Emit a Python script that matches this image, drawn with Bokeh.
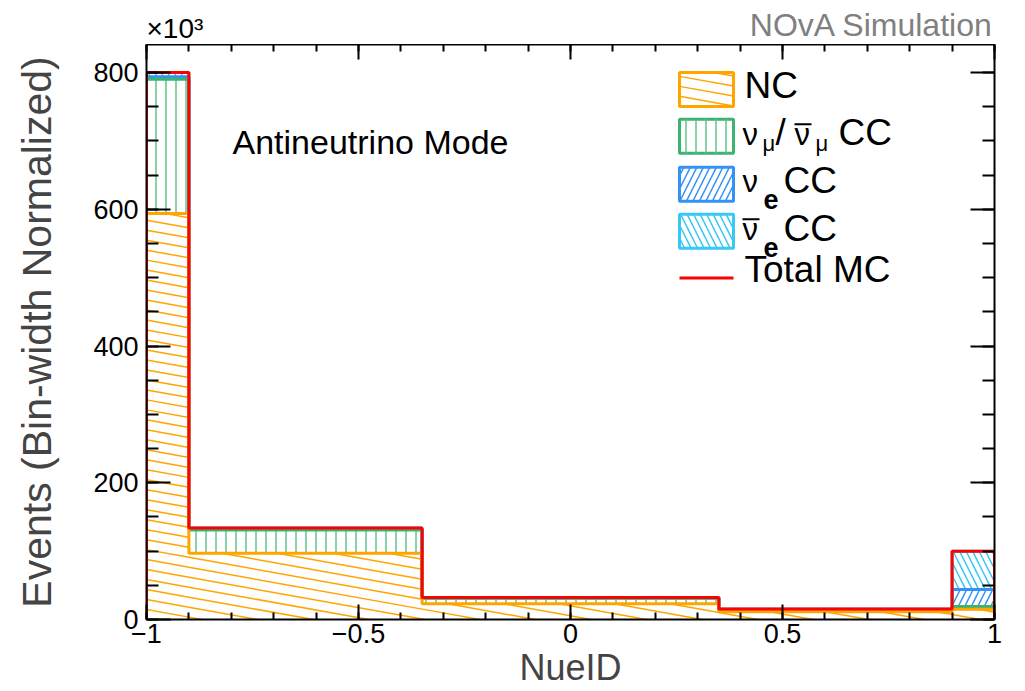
import numpy as np
from bokeh.plotting import figure
from bokeh.layouts import column
from bokeh.models import Range1d, FixedTicker, LinearAxis, CustomJSTickFormatter, Label
from bokeh.embed import file_html
from bokeh.resources import INLINE

# ---------------- data (values in units of 10^3, bin-width normalized) ----------------
bin_edges = [-1.0, -0.9, -0.35, 0.35, 0.9, 1.0]
nc_vals = [594.0, 97.0, 23.0, 11.5, 15.0]
numu_vals = [196.0, 34.0, 8.0, 1.0, 4.0]
nue_vals = [4.0, 1.0, 0.5, 1.5, 25.0]
nuebar_vals = [6.0, 2.0, 0.5, 1.5, 56.0]

x_major = [-1.0, -0.5, 0.0, 0.5, 1.0]
x_minor = [round(-1.0 + 0.1 * i, 2) for i in range(21)]
y_major = [0, 200, 400, 600, 800]
y_minor = list(range(0, 841, 50))

# ---------------- geometry ----------------
W = 1020
HEAD_H = 44
FL, FT, FR, FB = 146, 44, 994, 620       # frame edges on the page
FW, FH = FR - FL, FB - FT
X0, X1, Y0, Y1 = -1.0, 1.0, 0.0, 841.0
FONT = "Liberation Sans"
DESC = 0.2   # descent (fraction of font size) between text-box bottom and baseline

def sx(x): return (x - X0) / (X1 - X0) * FW
def sy(y): return (y - Y0) / (Y1 - Y0) * FH
def dx(px): return X0 + px / FW * (X1 - X0)
def dy(py): return Y0 + py / FH * (Y1 - Y0)
def rx(px): return dx(px - FL)      # page pixel -> data
def ry(py): return dy(FB - py)

C_NC = "#ffa500"
C_NUMU = "#3cb371"
C_NUMU_H = "#62c48a"
C_NUE = "#3592f5"
C_NUEBAR = "#38c8f5"
C_TOT = "#ff0000"

# ---------------- header (texts above the frame) ----------------
head = figure(width=W, height=HEAD_H, x_range=Range1d(FL, FR), y_range=Range1d(0, HEAD_H),
              output_backend="svg", toolbar_location=None,
              min_border=0, min_border_left=0, min_border_right=0,
              min_border_top=0, min_border_bottom=0,
              x_axis_type=None, y_axis_type=None)
head.outline_line_color = None
head.xgrid.visible = False
head.ygrid.visible = False

def head_label(px, baseline, text, size, color="black", align="left"):
    head.add_layout(Label(x=px, y=HEAD_H - (baseline + DESC * size), text=text, text_font=FONT,
                          text_font_size=f"{size}px", text_color=color, text_align=align,
                          text_baseline="bottom"))

head_label(FL, 38.0, "\u00d710\u00b3", 28)
head_label(993, 36, "NOvA Simulation", 32, color="#808080", align="right")

# ---------------- main figure ----------------
p = figure(width=W, height=FB - HEAD_H + 70, x_range=Range1d(X0, X1), y_range=Range1d(Y0, Y1),
           output_backend="svg", toolbar_location=None,
           min_border_left=FL, min_border_right=W - FR, min_border_top=FT - HEAD_H, min_border_bottom=70)
p.xgrid.visible = False
p.ygrid.visible = False
p.outline_line_color = None
p.background_fill_color = "white"

def slant_hatch(xa, xb, ya, yb, k=0.18, gap=10.0):
    Xa, Xb, Ya, Yb = sx(xa), sx(xb), sy(ya), sy(yb)
    xs, ys = [], []
    cmin = Ya + k * Xa
    cmax = Yb + k * Xb
    for m in range(int(np.ceil(cmin / gap)), int(np.floor(cmax / gap)) + 1):
        c = m * gap
        lo = max(Xa, (c - Yb) / k)
        hi = min(Xb, (c - Ya) / k)
        if hi > lo:
            xs.append([dx(lo), dx(hi)])
            ys.append([dy(c - k * lo), dy(c - k * hi)])
    return xs, ys

edges = np.array(bin_edges)
lefts, rights = edges[:-1], edges[1:]
c1 = np.array(nc_vals)
c2 = c1 + np.array(numu_vals)
c3 = c2 + np.array(nue_vals)
c4 = c3 + np.array(nuebar_vals)

# NC slanted hatch
hx, hy = [], []
for l, r, t in zip(lefts, rights, c1):
    a, b = slant_hatch(l, r, 0.0, t)
    hx += a; hy += b
p.multi_line(hx, hy, line_color=C_NC, line_width=1.5)

# other components with built-in hatches
p.quad(left=lefts, right=rights, bottom=c1, top=c2, fill_alpha=0, line_color=None,
       hatch_pattern="|", hatch_color=C_NUMU_H, hatch_scale=10, hatch_weight=1.5)
p.quad(left=lefts, right=rights, bottom=c2, top=c3, fill_alpha=0, line_color=None,
       hatch_pattern="/", hatch_color=C_NUE, hatch_scale=13, hatch_weight=1.5)
p.quad(left=lefts, right=rights, bottom=c3, top=c4, fill_alpha=0, line_color=None,
       hatch_pattern="\\", hatch_color=C_NUEBAR, hatch_scale=13, hatch_weight=1.5)

def step_xy(vals):
    xs, ys = [edges[0]], [0.0]
    for l, r, v in zip(lefts, rights, vals):
        xs += [l, r]; ys += [v, v]
    xs.append(edges[-1]); ys.append(0.0)
    return xs, ys

for vals, col in [(c4, C_NUEBAR), (c3, C_NUE), (c2, C_NUMU), (c1, C_NC), (c4, C_TOT)]:
    sxs, sys_ = step_xy(vals)
    p.line(sxs, sys_, line_color=col, line_width=3)

# ---------------- axes ----------------
def style_axis(ax, tick_in, minor_in, labels=True):
    ax.axis_line_width = 2
    ax.axis_line_color = "black"
    ax.major_tick_in = tick_in
    ax.major_tick_out = 0
    ax.minor_tick_in = minor_in
    ax.minor_tick_out = 0
    ax.major_tick_line_width = 2
    ax.minor_tick_line_width = 2
    ax.major_label_text_font = FONT
    ax.major_label_text_font_size = "27px"
    ax.major_label_text_color = "black"
    if not labels:
        ax.formatter = CustomJSTickFormatter(code="return ''")
        ax.major_label_text_font_size = "0px"
        ax.major_label_standoff = 0

xb = p.xaxis[0]
xb.ticker = FixedTicker(ticks=x_major, minor_ticks=x_minor)
xb.formatter = CustomJSTickFormatter(code="return tick.toString().replace('-', '\u2212');")
style_axis(xb, 15, 7)
xb.major_label_standoff = 4
xb.axis_label = "NueID"
xb.axis_label_text_font = FONT
xb.axis_label_text_font_size = "36px"
xb.axis_label_text_font_style = "normal"
xb.axis_label_standoff = 1

yl = p.yaxis[0]
yl.ticker = FixedTicker(ticks=y_major, minor_ticks=y_minor)
style_axis(yl, 24, 12)
yl.major_label_standoff = 8
yl.axis_label = "Events (Bin-width Normalized)"
yl.axis_label_text_font = FONT
yl.axis_label_text_font_size = "41px"
yl.axis_label_text_font_style = "normal"
yl.axis_label_standoff = 30

xt = LinearAxis(ticker=FixedTicker(ticks=x_major, minor_ticks=x_minor))
style_axis(xt, 15, 7, labels=False)
p.add_layout(xt, "above")
yr = LinearAxis(ticker=FixedTicker(ticks=y_major, minor_ticks=y_minor))
style_axis(yr, 24, 12, labels=False)
p.add_layout(yr, "right")

# ---------------- texts in the frame ----------------
def add_label(px, baseline, text, size, color="black", style="normal", align="left"):
    p.add_layout(Label(x=rx(px), y=ry(baseline + DESC * size), text=text, text_font=FONT,
                       text_font_size=f"{size}px", text_color=color, text_font_style=style,
                       text_align=align, text_baseline="bottom"))

add_label(232, 154, "Antineutrino Mode", 34)

# ---------------- legend ----------------
box_l, box_r = 679, 733
rows = [89, 136, 184, 231]
bh = 17
leg_cols = [C_NC, C_NUMU, C_NUE, C_NUEBAR]
for yc, col in zip(rows, leg_cols):
    p.quad(left=[rx(box_l)], right=[rx(box_r)], bottom=[ry(yc + bh)], top=[ry(yc - bh)],
           fill_alpha=0, line_color=col, line_width=3)
a, b = slant_hatch(rx(box_l), rx(box_r), ry(rows[0] + bh), ry(rows[0] - bh))
p.multi_line(a, b, line_color=C_NC, line_width=1.5)
p.quad(left=[rx(box_l)], right=[rx(box_r)], bottom=[ry(rows[1] + bh)], top=[ry(rows[1] - bh)], fill_alpha=0,
       line_color=None, hatch_pattern="|", hatch_color=C_NUMU_H, hatch_scale=10, hatch_weight=1.5)
p.quad(left=[rx(box_l)], right=[rx(box_r)], bottom=[ry(rows[2] + bh)], top=[ry(rows[2] - bh)], fill_alpha=0,
       line_color=None, hatch_pattern="/", hatch_color=C_NUE, hatch_scale=13, hatch_weight=1.5)
p.quad(left=[rx(box_l)], right=[rx(box_r)], bottom=[ry(rows[3] + bh)], top=[ry(rows[3] - bh)], fill_alpha=0,
       line_color=None, hatch_pattern="\\", hatch_color=C_NUEBAR, hatch_scale=13, hatch_weight=1.5)
p.line([rx(box_l), rx(box_r)], [ry(278), ry(278)], line_color=C_TOT, line_width=3)

LS = 37     # legend text
NS = 31     # greek nu
SS = 22     # mu subscript
ES = 27     # e subscript
add_label(744, 98, "NC", LS)
# nu_mu / nubar_mu CC
add_label(742, 145, "\u03bd", NS)
add_label(762, 151, "\u03bc", SS)
add_label(775, 145, "/", LS)
add_label(794, 145, "\u03bd", NS)
add_label(815, 151, "\u03bc", SS)
add_label(838, 145, "CC", LS)
p.line([rx(794), rx(811)], [ry(124), ry(124)], line_color="black", line_width=2)
# nu_e CC
add_label(742, 193, "\u03bd", NS)
add_label(763, 203, "e", ES, style="bold")
add_label(783, 193, "CC", LS)
# nubar_e CC
add_label(742, 241, "\u03bd", NS)
add_label(763, 251, "e", ES, style="bold")
add_label(783, 241, "CC", LS)
p.line([rx(742), rx(759)], [ry(219), ry(219)], line_color="black", line_width=2)
add_label(744, 283, "Total MC", LS)

layout = column(head, p, spacing=0)
open("out.html", "w").write(file_html(layout, INLINE))
